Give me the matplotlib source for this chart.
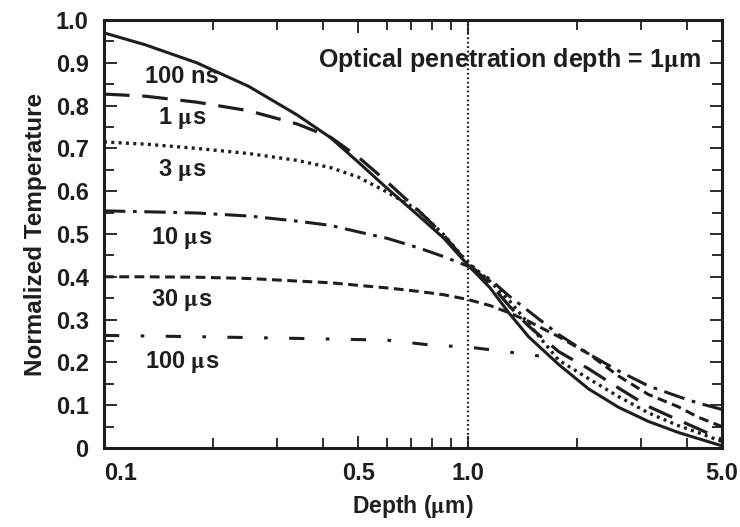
import matplotlib
matplotlib.use("Agg")
import matplotlib.pyplot as plt
from matplotlib.ticker import FixedLocator, NullFormatter

plt.rcParams['font.family'] = ['Liberation Sans', 'DejaVu Sans']
plt.rcParams['font.weight'] = 'bold'
plt.rcParams['mathtext.fontset'] = 'stix'

depth = [0.1, 0.13, 0.18, 0.25, 0.34, 0.42, 0.5, 0.6, 0.73, 0.86, 1.0,
         1.15, 1.3, 1.47, 1.78, 2.15, 2.6, 3.14, 3.8, 4.3, 5.0]

t_100ns = [0.97, 0.942, 0.90, 0.845, 0.778, 0.725, 0.668, 0.607, 0.544, 0.49, 0.428,
           0.375, 0.315, 0.26, 0.195, 0.138, 0.095, 0.062, 0.036, 0.022, 0.005]
t_1us = [0.827, 0.822, 0.808, 0.788, 0.757, 0.726, 0.68, 0.622, 0.556, 0.497, 0.432,
         0.385, 0.332, 0.285, 0.225, 0.185, 0.14, 0.097, 0.065, 0.045, 0.02]
t_3us = [0.715, 0.71, 0.70, 0.688, 0.672, 0.655, 0.633, 0.598, 0.556, 0.498, 0.434,
         0.39, 0.345, 0.29, 0.205, 0.162, 0.12, 0.082, 0.052, 0.036, 0.015]
t_10us = [0.554, 0.552, 0.549, 0.542, 0.53, 0.52, 0.505, 0.49, 0.468, 0.447, 0.425,
          0.395, 0.355, 0.32, 0.265, 0.22, 0.18, 0.145, 0.12, 0.105, 0.09]
t_30us = [0.40, 0.40, 0.399, 0.396, 0.39, 0.386, 0.38, 0.374, 0.366, 0.358, 0.347,
          0.333, 0.316, 0.296, 0.26, 0.22, 0.168, 0.125, 0.096, 0.072, 0.05]

# the 100 us curve stops short in the original
depth_100us = [0.1, 0.18, 0.34, 0.6, 0.8, 1.0, 1.3, 1.57]
t_100us = [0.263, 0.26, 0.256, 0.252, 0.24, 0.236, 0.224, 0.215]

labels = ['100 ns', r'1 $\mathrm{\mu}$s', r'3 $\mathrm{\mu}$s', r'10 $\mathrm{\mu}$s',
          r'30 $\mathrm{\mu}$s', r'100 $\mathrm{\mu}$s']
label_y = [0.867, 0.771, 0.65, 0.49, 0.346, 0.201]

xticks = [0.1, 0.5, 1.0, 5.0]
xticklabels = ['0.1', '0.5', '1.0', '5.0']
yticks = [0, 0.1, 0.2, 0.3, 0.4, 0.5, 0.6, 0.7, 0.8, 0.9, 1.0]
yticklabels = ['0', '0.1', '0.2', '0.3', '0.4', '0.5', '0.6', '0.7', '0.8', '0.9', '1.0']

ink = '#1e1e1e'

fig = plt.figure(figsize=(7.4, 5.27), dpi=100)
ax = fig.add_axes([0.1405, 0.150, 0.835, 0.812])

ax.plot(depth, t_100ns, color=ink, lw=2.2, ls='-')
ax.plot(depth, t_1us, color=ink, lw=2.3, ls=(0, (8, 4)))
ax.plot(depth, t_3us, color=ink, lw=2.4, ls=(0, (0.9, 1.3)))
ax.plot(depth, t_10us, color=ink, lw=2.2, ls=(0, (7, 2.5, 1.2, 2.5)))
ax.plot(depth, t_30us, color=ink, lw=2.2, ls=(0, (3.2, 1.8)))
ax.plot(depth_100us, t_100us, color=ink, lw=2.2, ls=(0, (5, 7, 1.2, 7)))

ax.axvline(1.0, color=ink, lw=1.6, ls=(0, (0.8, 1.2)))

for lab, yy in zip(labels, label_y):
    ax.text(0.164, yy, lab, ha='center', va='center', fontsize=17,
            fontweight='bold', color=ink)

ax.text(4.39, 0.907, r'Optical penetration depth = 1$\mathrm{\mu}$m',
        ha='right', va='center', fontsize=18, fontweight='bold', color=ink)

ax.set_xscale('log')
ax.set_xlim(0.1, 5.0)
ax.set_ylim(0, 1.0)

ax.xaxis.set_major_locator(FixedLocator(xticks))
ax.set_xticklabels(xticklabels)
ax.xaxis.set_minor_locator(FixedLocator([0.2, 0.3, 0.4, 0.6, 0.7, 0.8, 0.9, 2, 3, 4]))
ax.xaxis.set_minor_formatter(NullFormatter())
ax.set_yticks(yticks)
ax.set_yticklabels(yticklabels)
ax.set_yticks([0.05 + 0.1 * i for i in range(10)], minor=True)

ax.tick_params(which='both', direction='in', top=True, right=True, color=ink,
               width=1.3, labelsize=17, labelcolor=ink)
ax.tick_params(which='major', length=9)
ax.tick_params(axis='y', which='major', pad=11)
ax.tick_params(axis='x', which='major', pad=10)
ax.tick_params(which='minor', length=7)
ax.get_xticklabels()[0].set_horizontalalignment('left')

for sp in ax.spines.values():
    sp.set_linewidth(2.2)
    sp.set_color(ink)

ax.set_xlabel(r'Depth ($\mathrm{\mu}$m)', fontsize=16.5, fontweight='bold',
              color=ink, labelpad=6)
ax.set_ylabel('Normalized Temperature', fontsize=17.5, fontweight='bold',
              color=ink, labelpad=6)

fig.savefig('out.png', dpi=100)
